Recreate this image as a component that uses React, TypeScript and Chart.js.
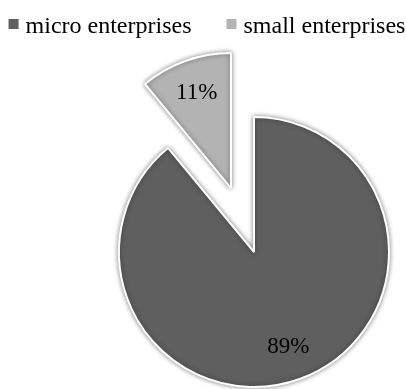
import React, { useEffect, useRef } from "react";
import { Chart, registerables } from "chart.js";

Chart.register(...registerables);

const categories = ["micro enterprises", "small enterprises"];
const shares = [89, 11];
const sliceColors = ["#5f5f5f", "#b3b3b3"];
// pull-out distance of each slice, in pixels
const explodePx = [0, 68];

const W = 406;
const H = 389;
const PIE_R = 135;
const FONT = '"Liberation Serif", "Times New Roman", serif';

// Pull slices out by translating each arc (keeps the slice radius unchanged).
const explodePlugin = {
  id: "explodeSlices",
  beforeDatasetsDraw(chart: any) {
    const meta = chart.getDatasetMeta(0);
    meta.data.forEach((arc: any, i: number) => {
      if (arc.__exploded) return;
      const orig = arc.draw.bind(arc);
      arc.draw = (ctx: CanvasRenderingContext2D) => {
        const d = explodePx[i] || 0;
        const mid = (arc.startAngle + arc.endAngle) / 2;
        ctx.save();
        ctx.translate(Math.cos(mid) * d, Math.sin(mid) * d);
        orig(ctx);
        ctx.restore();
      };
      arc.__exploded = true;
    });
  },
};

const shadowPlugin = {
  id: "sliceShadow",
  beforeDatasetsDraw(chart: any) {
    const ctx = chart.ctx;
    ctx.save();
    ctx.shadowColor = "rgba(0,0,0,0.45)";
    ctx.shadowBlur = 5;
  },
  afterDatasetsDraw(chart: any) {
    chart.ctx.restore();
  },
};

const labelPlugin = {
  id: "pctLabels",
  afterDatasetsDraw(chart: any) {
    const meta = chart.getDatasetMeta(0);
    const ctx = chart.ctx;
    ctx.save();
    ctx.font = `23px ${FONT}`;
    ctx.fillStyle = "#000";
    ctx.textAlign = "center";
    ctx.textBaseline = "middle";
    meta.data.forEach((arc: any, i: number) => {
      const p = arc.getProps(["x", "y", "startAngle", "endAngle", "outerRadius"], true);
      const mid = (p.startAngle + p.endAngle) / 2;
      const r = p.outerRadius * 0.75 + explodePx[i];
      ctx.fillText(`${shares[i]}%`, p.x + Math.cos(mid) * r, p.y + Math.sin(mid) * r);
    });
    ctx.restore();
  },
};

const legendPlugin = {
  id: "topLegend",
  afterDraw(chart: any) {
    const ctx = chart.ctx;
    ctx.save();
    ctx.font = `24px ${FONT}`;
    const box = 10;
    const gapText = 7;
    const gapItem = 35;
    const widths = categories.map((c) => ctx.measureText(c).width);
    const total =
      widths.reduce((s, w) => s + box + gapText + w, 0) + gapItem * (categories.length - 1);
    let x = (chart.width - total) / 2 + 4;
    categories.forEach((c, i) => {
      ctx.fillStyle = sliceColors[i];
      ctx.fillRect(x, 19, box, box);
      x += box + gapText;
      ctx.fillStyle = "#000";
      ctx.textAlign = "left";
      ctx.textBaseline = "alphabetic";
      ctx.fillText(c, x, 33);
      x += widths[i] + gapItem;
    });
    ctx.restore();
  },
};

export default function App() {
  const ref = useRef<HTMLCanvasElement | null>(null);

  useEffect(() => {
    if (!ref.current) return;
    const chart = new Chart(ref.current, {
      type: "pie",
      data: {
        labels: categories,
        datasets: [
          {
            data: shares,
            backgroundColor: sliceColors,
            borderColor: "#ffffff",
            borderWidth: 2,
            hoverOffset: 0,
            radius: PIE_R,
            clip: false,
          } as any,
        ],
      },
      options: {
        responsive: false,
        animation: false,
        // chart area [102..406] x [115..389] -> pie centre (254, 252)
        layout: { padding: { left: 102, top: 115, right: 0, bottom: 0 } },
        plugins: {
          legend: { display: false },
          tooltip: { enabled: false },
        },
      },
      plugins: [explodePlugin, shadowPlugin, labelPlugin, legendPlugin],
    });
    return () => chart.destroy();
  }, []);

  return (
    <div style={{ position: "fixed", left: 0, top: 0, width: W, height: H, background: "#fff" }}>
      <canvas ref={ref} width={W} height={H} style={{ display: "block" }} />
    </div>
  );
}
